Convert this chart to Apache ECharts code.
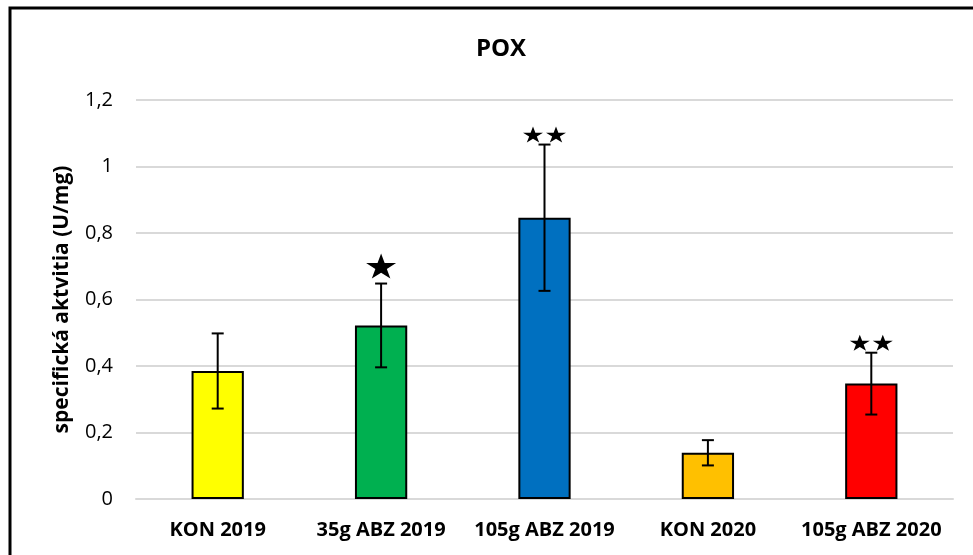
<!DOCTYPE html>
<html>
<head>
<meta charset="utf-8">
<script src="https://cdn.jsdelivr.net/npm/echarts@6/dist/echarts.min.js"></script>
<style>
  html, body { margin: 0; padding: 0; background: #fff; }
  #chart { width: 973px; height: 555px; }
</style>
</head>
<body>
<div id="chart"></div>
<script>
// POX specific activity per treatment
const categories = ['KON 2019', '35g ABZ 2019', '105g ABZ 2019', 'KON 2020', '105g ABZ 2020'];
const values = [0.385, 0.522, 0.846, 0.139, 0.347];
const errors = [0.113, 0.126, 0.22, 0.038, 0.093];
const starCounts = [0, 1, 2, 0, 2];
const barColors = ['#FFFF00', '#00B050', '#0070C0', '#FFC000', '#FF0000'];
const yTicks = { min: 0, max: 1.2, interval: 0.2 };

const FONT = 'Open Sans';

// Five-pointed star polygon fitted into a w x h box around a centre point
function starPoints(cx, cy, w, h) {
  const pts = [];
  const rx = w / 2 / 0.9511, ry = h / (1 + 0.809);
  const cyTop = cy - h / 2 + ry;
  for (let k = 0; k < 10; k++) {
    const a = -Math.PI / 2 + k * Math.PI / 5;
    const r = k % 2 === 0 ? 1 : 0.382;
    pts.push([cx + Math.cos(a) * r * rx, cyTop + Math.sin(a) * r * ry]);
  }
  return pts;
}

const chart = echarts.init(document.getElementById('chart'), null, { renderer: 'canvas' });

chart.setOption({
  animation: false,
  backgroundColor: '#fff',
  title: {
    text: 'POX',
    left: 496,
    textAlign: 'center',
    top: 32,
    textStyle: { fontFamily: FONT, fontWeight: 'bold', fontSize: 24, color: '#000' }
  },
  graphic: [{
    type: 'rect',
    shape: { x: 10, y: 8, width: 1000, height: 600 },
    style: { fill: 'none', stroke: '#000', lineWidth: 3 },
    silent: true
  }],
  grid: { left: 136, right: 20, top: 100, bottom: 56 },
  xAxis: {
    type: 'category',
    data: categories,
    axisTick: { show: false },
    axisLine: { lineStyle: { color: '#d9d9d9', width: 2 } },
    axisLabel: { interval: 0, fontFamily: FONT, fontWeight: 'bold', fontSize: 20, color: '#000', margin: 21 }
  },
  yAxis: {
    type: 'value',
    min: yTicks.min, max: yTicks.max, interval: yTicks.interval,
    name: 'specifická aktvitia (U/mg)',
    nameLocation: 'middle',
    nameRotate: 90,
    nameGap: 63,
    nameTextStyle: { fontFamily: FONT, fontWeight: 'bold', fontSize: 21, color: '#000' },
    axisLine: { show: false },
    axisTick: { show: false },
    splitLine: { lineStyle: { color: '#d9d9d9', width: 2 } },
    axisLabel: {
      fontFamily: FONT, fontSize: 20, color: '#000', margin: 23,
      formatter: v => String(Math.round(v * 10) / 10).replace('.', ',')
    }
  },
  series: [{
    type: 'bar',
    data: values.map((v, i) => ({ value: v, itemStyle: { color: barColors[i] } })),
    barWidth: '32%',
    itemStyle: { borderColor: '#000', borderWidth: 2 }
  }, {
    type: 'custom',
    data: values.map((v, i) => [i, v, errors[i], starCounts[i]]),
    z: 10,
    renderItem: (params, api) => {
      const i = api.value(0), v = api.value(1), e = api.value(2), n = api.value(3);
      const top = api.coord([i, v + e]);
      const bot = api.coord([i, v - e]);
      const cap = 6;
      const style = { stroke: '#000', lineWidth: 2 };
      const children = [
        { type: 'line', shape: { x1: top[0], y1: top[1], x2: bot[0], y2: bot[1] }, style },
        { type: 'line', shape: { x1: top[0] - cap, y1: top[1], x2: top[0] + cap, y2: top[1] }, style },
        { type: 'line', shape: { x1: bot[0] - cap, y1: bot[1], x2: bot[0] + cap, y2: bot[1] }, style }
      ];
      if (n === 1) {
        children.push({ type: 'polygon', shape: { points: starPoints(top[0], top[1] - 17.5, 30, 25) }, style: { fill: '#000' } });
      } else if (n === 2) {
        [-11.5, 11.5].forEach(dx => {
          children.push({ type: 'polygon', shape: { points: starPoints(top[0] + dx, top[1] - 10, 20, 16) }, style: { fill: '#000' } });
        });
      }
      return { type: 'group', children };
    }
  }]
});
</script>
</body>
</html>
